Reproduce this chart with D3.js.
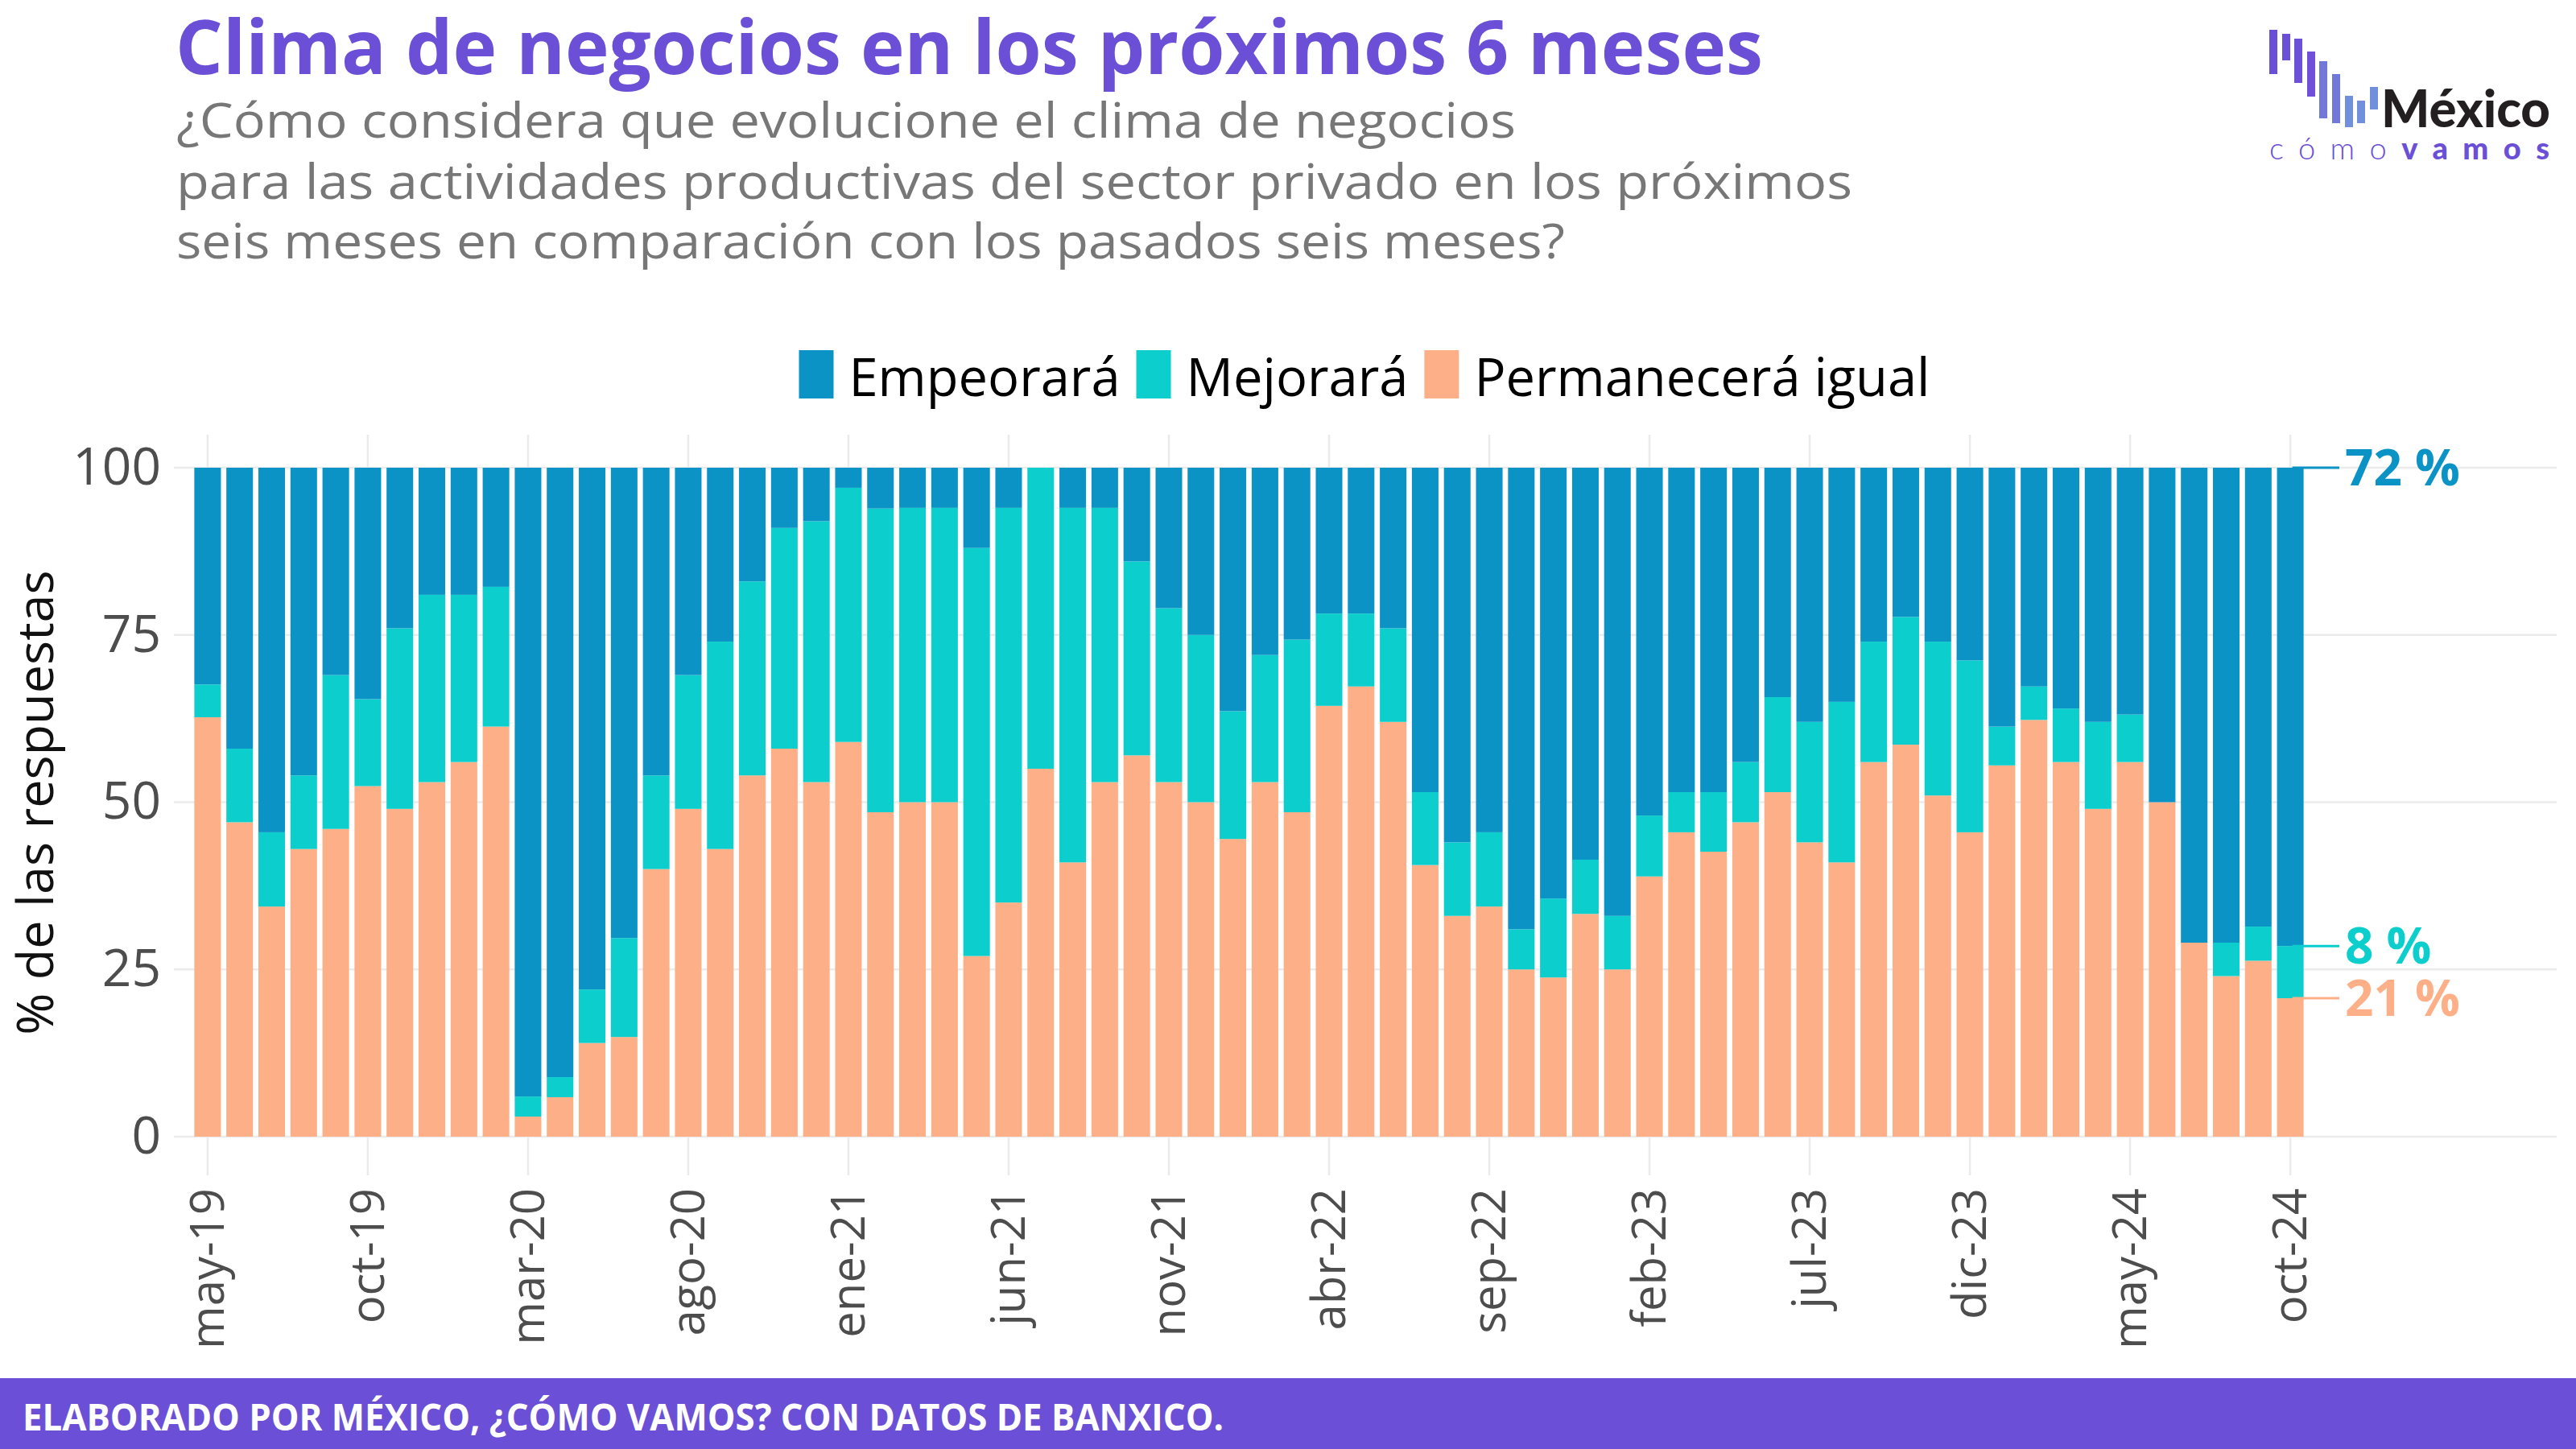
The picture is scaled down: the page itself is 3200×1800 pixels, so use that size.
<!DOCTYPE html>
<html><head><meta charset="utf-8">
<script src="https://cdn.jsdelivr.net/npm/d3@7"></script>
<style>body{margin:0;background:#fff} svg{display:block}</style>
</head><body>
<svg id="c" width="3200" height="1800"></svg>
<script>
// ---------------- DATA ----------------
const months = [
  "may-19","jun-19","jul-19","ago-19","sep-19","oct-19","nov-19","dic-19",
  "ene-20","feb-20","mar-20","abr-20","may-20","jun-20","jul-20","ago-20","sep-20","oct-20","nov-20","dic-20",
  "ene-21","feb-21","mar-21","abr-21","may-21","jun-21","jul-21","ago-21","sep-21","oct-21","nov-21","dic-21",
  "ene-22","feb-22","mar-22","abr-22","may-22","jun-22","jul-22","ago-22","sep-22","oct-22","nov-22","dic-22",
  "ene-23","feb-23","mar-23","abr-23","may-23","jun-23","jul-23","ago-23","sep-23","oct-23","nov-23","dic-23",
  "ene-24","feb-24","mar-24","abr-24","may-24","jun-24","jul-24","ago-24","sep-24","oct-24"
];
const permanecera = [
  62.7,47.0,34.4,43.0,46.0,52.4,49.0,53.0,
  56.0,61.3,3.0,5.9,14.0,14.9,40.0,49.0,43.0,54.0,58.0,53.0,
  59.0,48.5,50.0,50.0,27.0,35.0,55.0,41.0,53.0,57.0,53.0,50.0,
  44.5,53.0,48.5,64.4,67.3,62.0,40.6,33.0,34.4,25.0,23.8,33.3,
  25.0,38.9,45.5,42.6,47.0,51.5,44.0,41.0,56.0,58.6,51.0,45.5,
  55.5,62.3,56.0,49.0,56.0,50.0,29.0,24.0,26.3,20.7
];
const mejorara = [
  4.9,11.0,11.1,11.0,23.0,13.0,27.0,28.0,
  25.0,20.9,3.0,3.0,8.0,14.8,14.0,20.0,31.0,29.0,33.0,39.0,
  38.0,45.4,44.0,44.0,61.0,59.0,45.0,53.0,41.0,29.0,26.0,25.0,
  19.1,19.0,25.8,13.8,10.9,14.0,10.9,11.0,11.1,6.0,11.8,8.1,
  8.0,9.1,6.0,8.9,9.0,14.2,18.0,24.0,18.0,19.1,23.0,25.7,
  5.8,5.0,8.0,13.0,7.1,0.0,0.0,5.0,5.1,7.8
];
const empeorara = [
  32.4,42.0,54.5,46.0,31.0,34.6,24.0,19.0,
  19.0,17.8,94.0,91.1,78.0,70.3,46.0,31.0,26.0,17.0,9.0,8.0,
  3.0,6.1,6.0,6.0,12.0,6.0,0.0,6.0,6.0,14.0,21.0,25.0,
  36.4,28.0,25.7,21.8,21.8,24.0,48.5,56.0,54.5,69.0,64.4,58.6,
  67.0,52.0,48.5,48.5,44.0,34.3,38.0,35.0,26.0,22.3,26.0,28.8,
  38.7,32.7,36.0,38.0,36.9,50.0,71.0,71.0,68.6,71.5
];
const tickMonths = ["may-19","oct-19","mar-20","ago-20","ene-21","jun-21","nov-21",
  "abr-22","sep-22","feb-23","jul-23","dic-23","may-24","oct-24"];
const yTicks = [0,25,50,75,100];
const seriesKeys = ["perm","mej","emp"];
const seriesNames = {emp:"Empeorará", mej:"Mejorará", perm:"Permanecerá igual"};
const legendOrder = ["emp","mej","perm"];
const colors = {emp:"#0C93C6", mej:"#0CCFCD", perm:"#FDB087"};

const titleText = "Clima de negocios en los próximos 6 meses";
const subtitleLines = [
  "¿Cómo considera que evolucione el clima de negocios",
  "para las actividades productivas del sector privado en los próximos",
  "seis meses en comparación con los pasados seis meses?"
];
const yTitle = "% de las respuestas";
const footerText = "ELABORADO POR MÉXICO, ¿CÓMO VAMOS? CON DATOS DE BANXICO.";

// ---------------- CHART ----------------
const FONT = "'Open Sans', 'Noto Sans', sans-serif";
const PURPLE = "#6B4FD6";
const svg = d3.select("#c");
svg.append("rect").attr("width",3200).attr("height",1800).attr("fill","#fff");

const panel = {left:216, right:3176, top:540, bottom:1412};
const x = d3.scaleBand().domain(months).range([238, 2865]).paddingInner(0.17).paddingOuter(0.085);
const y = d3.scaleLinear().domain([0,100]).range([1412, 581]);
const cx = m => x(m) + x.bandwidth()/2;

// gridlines
const grid = svg.append("g").attr("stroke","#EBEBEB").attr("stroke-width",2.5);
grid.selectAll("line.h").data(yTicks).join("line").attr("class","h")
  .attr("x1",panel.left).attr("x2",panel.right).attr("y1",d=>y(d)).attr("y2",d=>y(d));
grid.selectAll("line.v").data(tickMonths).join("line").attr("class","v")
  .attr("x1",cx).attr("x2",cx).attr("y1",panel.top).attr("y2",panel.bottom);

// stacked bars
const rows = months.map((m,i)=>({month:m, perm:permanecera[i], mej:mejorara[i], emp:empeorara[i]}));
const stacked = d3.stack().keys(seriesKeys)(rows);
svg.append("g").selectAll("g").data(stacked).join("g")
  .attr("fill",d=>colors[d.key])
  .selectAll("rect").data(d=>d).join("rect")
  .attr("x",d=>x(d.data.month)).attr("width",x.bandwidth())
  .attr("y",d=>y(d[1])).attr("height",d=>Math.max(0,y(d[0])-y(d[1])));

// x axis
const xAxis = svg.append("g").attr("transform",`translate(0,${panel.bottom})`)
  .call(d3.axisBottom(x).tickValues(tickMonths).tickSize(48).tickPadding(0));
xAxis.select(".domain").remove();
xAxis.selectAll(".tick line").attr("stroke","#EBEBEB").attr("stroke-width",2.5);
xAxis.selectAll(".tick text")
  .attr("x",0).attr("y",0).attr("dy",null)
  .attr("text-anchor","end")
  .attr("transform","translate(20,64) rotate(-90)")
  .attr("fill","#4D4D4D").style("font-family",FONT).style("font-size","58px");

// y axis
const yAxis = svg.append("g").attr("transform",`translate(${panel.left},0)`)
  .call(d3.axisLeft(y).tickValues(yTicks).tickSize(0).tickPadding(16));
yAxis.select(".domain").remove();
yAxis.selectAll(".tick text").attr("fill","#4D4D4D").style("font-family",FONT).style("font-size","64px");

// y title
svg.append("text").attr("transform","translate(66,997) rotate(-90)")
  .attr("text-anchor","middle").attr("fill","#111")
  .style("font-family",FONT).style("font-size","63px").text(yTitle);

// end labels
const last = months[months.length-1];
const xr = x(last) + x.bandwidth();
const endG = svg.append("g");
stacked.forEach(s => {
  const d = s[s.length-1];
  const yy = y(d[1]);
  endG.append("line").attr("x1",xr-14).attr("x2",2906).attr("y1",yy).attr("y2",yy)
    .attr("stroke",colors[s.key]).attr("stroke-width",3);
  endG.append("text").attr("x",2913).attr("y",yy).attr("dy","0.36em")
    .attr("fill",colors[s.key]).style("font-family",FONT).style("font-weight",700)
    .style("font-size","62px").text(Math.round(d.data[s.key]) + " %");
});

// legend
const leg = svg.append("g");
let lx = 0;
legendOrder.forEach(k => {
  const it = leg.append("g").attr("transform",`translate(${lx},0)`);
  it.append("rect").attr("x",0).attr("y",435).attr("width",43).attr("height",60).attr("fill",colors[k]);
  const t = it.append("text").attr("x",62).attr("y",492).attr("fill","#000")
    .style("font-family",FONT).style("font-size","65px").text(seriesNames[k]);
  const w = t.node().getComputedTextLength();
  lx += 62 + w + 20;
});
lx -= 20;
leg.attr("transform",`translate(${1695 - lx/2},0)`);

// title & subtitle
svg.append("text").attr("x",218).attr("y",92).attr("fill",PURPLE)
  .style("font-family",FONT).style("font-weight",700).style("font-size","94px")
  .attr("textLength",1972).attr("lengthAdjust","spacingAndGlyphs").text(titleText);
const subY = [171,247,321], subW = [1664,2082,1725];
subtitleLines.forEach((s,i)=>{
  svg.append("text").attr("x",219).attr("y",subY[i]).attr("fill","#777")
    .style("font-family",FONT).style("font-size","61px")
    .attr("textLength",subW[i]).attr("lengthAdjust","spacingAndGlyphs").text(s);
});

// footer
svg.append("rect").attr("x",0).attr("y",1712).attr("width",3200).attr("height",88).attr("fill",PURPLE);
svg.append("text").attr("x",28).attr("y",1777).attr("fill","#fff")
  .style("font-family",FONT).style("font-weight",700).style("font-size","47px")
  .attr("textLength",1492).attr("lengthAdjust","spacingAndGlyphs").text(footerText);

// logo
const logo = svg.append("g");
const logoBars = [
  [2819,37,92,"#6A4FD8"],[2835,42,75,"#6A4FD8"],[2850,48,103,"#6D50D8"],[2866,64,120,"#7050D9"],
  [2881,76,147,"#7079DB"],[2897,92,153,"#7079DB"],[2913,119,158,"#728FDE"],[2928,125,153,"#728FDE"],[2944,108,136,"#728FDE"]
];
logoBars.forEach(b=>logo.append("rect").attr("x",b[0]).attr("y",b[1]).attr("width",10).attr("height",b[2]-b[1]).attr("fill",b[3]));
logo.append("text").attr("x",2958).attr("y",158).attr("fill","#231F20")
  .style("font-family","Lato, 'Open Sans', sans-serif").style("font-weight",900).style("font-size","64px")
  .attr("textLength",210).attr("lengthAdjust","spacingAndGlyphs").text("México");
const lt = logo.append("text").attr("x",2819).attr("y",198).attr("fill",PURPLE)
  .style("font-family","Lato, 'Open Sans', sans-serif").style("font-size","38px")
  .attr("textLength",348).attr("lengthAdjust","spacing");
lt.append("tspan").style("font-weight",300).text("cómo");
lt.append("tspan").style("font-weight",900).text("vamos");
</script>
</body></html>
